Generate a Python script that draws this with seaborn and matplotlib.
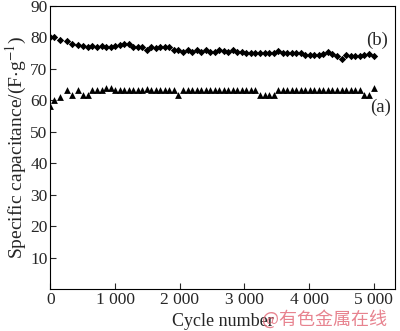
import matplotlib
matplotlib.use("Agg")
import matplotlib.pyplot as plt
import seaborn as sns
import pandas as pd

# cycle numbers where capacitance was measured
cycles = [0, 50, 150, 250, 330, 420, 500, 580, 650, 720, 790, 860, 930, 1000,
          1070, 1140, 1210, 1280, 1350, 1420, 1490, 1560, 1630, 1700, 1770, 1840,
          1910, 1980, 2050, 2120, 2190, 2260, 2330, 2400, 2470, 2540, 2610, 2680,
          2750, 2820, 2890, 2960, 3030, 3100, 3170, 3240, 3310, 3380, 3450, 3520,
          3590, 3660, 3730, 3800, 3870, 3940, 4010, 4080, 4150, 4220, 4290, 4360,
          4430, 4500, 4570, 4640, 4710, 4780, 4850, 4920, 5000]

# (b) diamonds
cap_b = [80.2, 80.2, 79.2, 78.8, 77.8, 77.6, 77.2, 77.0, 77.2, 77.0, 77.2, 77.0, 77.0, 77.2,
         77.5, 78.0, 77.8, 77.0, 77.0, 77.0, 76.0, 77.0, 76.5, 77.0, 77.0, 77.0,
         76.0, 76.0, 75.2, 76.0, 75.5, 76.0, 75.5, 76.0, 75.2, 75.5, 76.0, 75.8,
         75.2, 76.0, 75.5, 75.5, 75.0, 75.0, 75.0, 75.0, 75.0, 75.0, 75.0, 75.8,
         75.0, 75.0, 75.0, 75.0, 75.0, 74.5, 74.5, 74.5, 74.5, 74.8, 75.2, 74.8,
         74.0, 73.2, 74.5, 74.2, 74.2, 74.2, 74.5, 74.8, 74.0]

# (a) triangles
cap_a = [58.2, 60.0, 61.0, 63.2, 61.8, 63.2, 61.8, 61.8, 63.2, 63.2, 63.2, 63.8, 63.8, 63.2,
         63.2, 63.2, 63.2, 63.2, 63.2, 63.2, 63.6, 63.2, 63.2, 63.2, 63.2, 63.2,
         63.2, 61.8, 63.2, 63.2, 63.2, 63.2, 63.2, 63.2, 63.2, 63.2, 63.2, 63.2,
         63.2, 63.2, 63.2, 63.2, 63.2, 63.2, 63.2, 61.8, 61.8, 61.8, 61.8, 63.2,
         63.2, 63.2, 63.2, 63.2, 63.2, 63.2, 63.2, 63.2, 63.2, 63.2, 63.2, 63.2,
         63.2, 63.2, 63.2, 63.2, 63.2, 63.2, 61.8, 61.8, 64.0]

xticks = [0, 1000, 2000, 3000, 4000, 5000]
xtick_labels = ["0", "1 000", "2 000", "3 000", "4 000", "5 000"]
yticks = [10, 20, 30, 40, 50, 60, 70, 80, 90]

df = pd.DataFrame({"cycle": cycles, "a": cap_a, "b": cap_b})

sns.set_style("ticks")
plt.rcParams["font.family"] = ["Liberation Serif", "DejaVu Serif"]
plt.rcParams["mathtext.fontset"] = "stix"

fig = plt.figure(figsize=(4, 3.31), dpi=100)
ax = fig.add_axes([0.126, 0.127, 0.862, 0.855])

sns.scatterplot(data=df, x="cycle", y="b", marker="D", s=14, color="black",
                edgecolor="black", linewidth=0, ax=ax)
sns.scatterplot(data=df, x="cycle", y="a", marker="^", s=24, color="black",
                edgecolor="black", linewidth=0, ax=ax)

ax.set_xlim(0, 5330)
ax.set_ylim(0, 90)
ax.set_xticks(xticks)
ax.set_xticklabels(xtick_labels)
ax.set_yticks(yticks)
ax.tick_params(direction="in", length=4, labelsize=12.5, width=0.8, pad=2)
for s in ax.spines.values():
    s.set_linewidth(0.8)
    s.set_color("black")

ax.set_xlabel("Cycle number", fontsize=13, labelpad=4)
ax.set_ylabel("Specific capacitance/(F$\\cdot$g$^{-1}$)", fontsize=14, labelpad=1)

ax.text(5050, 79.0, "(b)", fontsize=13.5, ha="center", va="center")
ax.text(5100, 57.6, "(a)", fontsize=13.5, ha="center", va="center")

# watermark (it sits over the end of the x label, like in the original)
fig.text(0.655, 0.018, "@有色金属在线", fontsize=13, color="#e05a6a", alpha=0.75,
         family=["Noto Sans CJK SC", "DejaVu Sans"])

fig.savefig("out.png", dpi=100)
